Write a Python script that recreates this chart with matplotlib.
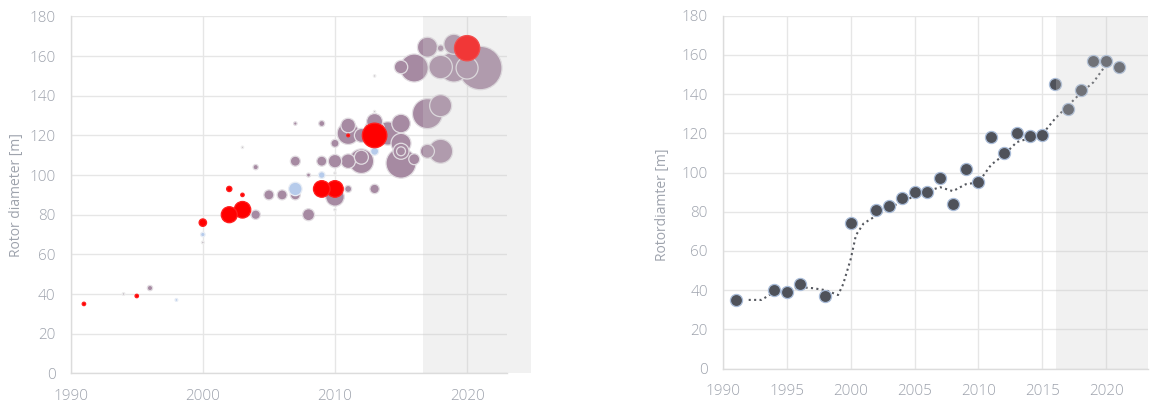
import matplotlib
matplotlib.use("Agg")
import matplotlib.pyplot as plt
import matplotlib.patches as patches
import numpy as np

plt.rcParams['font.family'] = ['Open Sans', 'DejaVu Sans']
plt.rcParams['font.weight'] = 'light'

# --- left panel: individual turbine models (year, rotor diameter, relative weight, group)
other_year = [1996, 2004, 2004, 2005, 2006, 2007, 2007, 2007, 2008, 2008, 2009, 2009,
              2010, 2010, 2010, 2011, 2011, 2011, 2011, 2012, 2012, 2012, 2013, 2013,
              2014, 2015, 2015, 2015, 2015, 2015, 2016, 2015, 2016, 2017, 2017, 2017,
              2018, 2018, 2018, 2018, 2019, 2019, 2020, 2021, 2013]
other_diam = [43, 80, 104, 90, 90, 90, 107, 126, 80, 100, 107, 126,
              89, 107, 116, 93, 107, 121, 125, 107, 109, 120, 93, 127,
              121, 126, 116, 112, 112, 106, 108, 154.5, 154, 131, 112, 164.5,
              135, 112, 164, 154.5, 166, 154.5, 154, 154, 123]
other_weight = [7, 22, 7, 25, 25, 25, 25, 3, 36, 4, 25, 9,
                86, 45, 16, 12, 53, 121, 53, 151, 49, 49, 22, 64,
                137, 86, 100, 64, 20, 225, 30, 45, 196, 225, 49, 100,
                121, 144, 11, 137, 100, 225, 121, 471, 100]

red_year = [1991, 1995, 2000, 2002, 2002, 2003, 2003, 2009, 2010, 2011, 2013, 2020]
red_diam = [35, 39, 76, 80, 93, 82.5, 90, 93, 93, 120, 120, 164]
red_weight = [3, 3, 14, 64, 7, 69, 3, 69, 69, 2, 151, 160]

blue_year = [1998, 2000, 2007, 2009, 2013]
blue_diam = [37, 70, 93, 100, 112]
blue_weight = [2, 5, 45, 11, 16]

minor_year = [1994, 2000, 2003, 2010, 2010, 2013, 2013]
minor_diam = [40, 66, 114, 82.5, 101, 132, 150]
minor_weight = [2, 2, 1.5, 1.5, 1.5, 1.5, 1.5]

# --- right panel: yearly average rotor diameter and its trend
avg_year = [1991, 1994, 1995, 1996, 1998, 2000, 2002, 2003, 2004, 2005, 2006, 2007,
            2008, 2009, 2010, 2011, 2012, 2013, 2014, 2015, 2016, 2017, 2018, 2019,
            2020, 2021]
avg_diam = [35, 40, 39, 43, 37, 74, 81, 83, 87, 90, 90, 97,
            84, 102, 95, 118, 110, 120, 118.5, 119, 145, 132.5, 142, 157,
            157, 154]
trend_year = [1992, 1993, 1994, 1995, 1996, 1997, 1998, 1999, 1999.4, 2000, 2000.4, 2001,
              2002, 2003, 2004, 2005, 2006, 2007, 2008, 2009, 2010, 2011, 2012, 2013,
              2014, 2015, 2016, 2017, 2018, 2019, 2020]
trend_diam = [35, 35, 39, 40, 41.5, 41, 40, 37.5, 43, 56, 68, 74,
              78, 82, 85, 88, 90.5, 92.5, 90.5, 94, 95, 104, 109, 115.5,
              117.5, 119.5, 127.5, 134, 140.5, 146, 155]

forecast_from_left = 2016.7
forecast_from_right = 2016.1

tick_color = '#9ea3ad'
grid_color = '#e6e6e6'
dpi = 100
pt_per_px = 72 / dpi


def style_axes(ax):
    ax.set_ylim(0, 180)
    ax.set_yticks(np.arange(0, 181, 20))
    ax.grid(True, color=grid_color, lw=1)
    ax.set_axisbelow(True)
    for side in ['top', 'right']:
        ax.spines[side].set_visible(False)
    for side in ['left', 'bottom']:
        ax.spines[side].set_color('#dcdcdc')
        ax.spines[side].set_linewidth(1)
    ax.tick_params(length=0, labelsize=11, labelcolor=tick_color, pad=11)


def bubble_area(weight):
    # weight ~ radius^2 in px, converted to scatter area in pt^2
    return (2 * np.sqrt(np.asarray(weight, dtype=float)) * pt_per_px) ** 2


def draw_bubbles(ax, xs, ys, ws, color, edge, z):
    order = np.argsort(ws)[::-1]
    xs = np.asarray(xs)[order]
    ys = np.asarray(ys)[order]
    ws = np.asarray(ws)[order]
    ax.scatter(xs, ys, s=bubble_area(ws), c=color, edgecolors=edge, linewidths=0.9, zorder=z)


fig = plt.figure(figsize=(11.63, 4.03), dpi=dpi)

ax1 = fig.add_axes([0.0608, 0.0737, 0.3749, 0.8854])
style_axes(ax1)
ax1.set_xlim(1990, 2023)
ax1.set_xticks([1990, 2000, 2010, 2020])
draw_bubbles(ax1, other_year, other_diam, other_weight, '#a68aa2', '#e2dde2', 3)
draw_bubbles(ax1, minor_year, minor_diam, minor_weight, '#c4bcc4', '#eeeeee', 4)
draw_bubbles(ax1, blue_year, blue_diam, blue_weight, '#b6cbeb', '#e8edf5', 4)
draw_bubbles(ax1, red_year, red_diam, red_weight, '#ff0000', '#ff2020', 5)
ax1.add_patch(patches.Rectangle((forecast_from_left, 0), 2024.8 - forecast_from_left, 180,
                                facecolor='#cccccc', alpha=0.27, lw=0, zorder=6, clip_on=False))
ax1.set_ylabel('Rotor diameter [m]', color=tick_color, fontsize=10)
ax1.yaxis.set_label_coords(-0.107, 0.5)

ax2 = fig.add_axes([0.6218, 0.0856, 0.3655, 0.8754])
style_axes(ax2)
ax2.set_xlim(1990, 2023.3)
ax2.set_xticks(np.arange(1990, 2021, 5))
ax2.plot(trend_year, trend_diam, ls=(0, (1, 1.6)), color='#55585f', lw=1.5, zorder=3)
ax2.scatter(avg_year, avg_diam, s=76, c='#4f525a', edgecolors='#a9bcd8', linewidths=0.9, zorder=4)
ax2.add_patch(patches.Rectangle((forecast_from_right, 0), 2023.3 - forecast_from_right, 180,
                                facecolor='#cccccc', alpha=0.27, lw=0, zorder=6))
ax2.set_ylabel('Rotordiamter [m]', color=tick_color, fontsize=10)
ax2.yaxis.set_label_coords(-0.125, 0.463)

fig.savefig('out.png', dpi=dpi)
